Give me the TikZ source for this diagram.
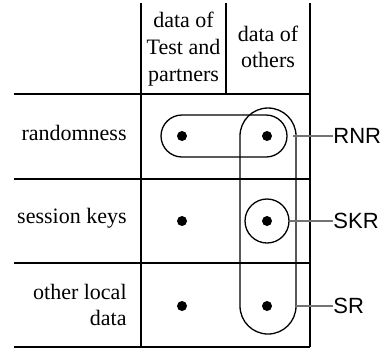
\documentclass[tikz,border=0pt]{standalone}
\usepackage{fontspec}
\setmainfont{Liberation Serif}
\newfontfamily\lblfont{Liberation Sans}
\usetikzlibrary{shapes.misc}
\begin{document}
\begin{tikzpicture}[x=0.5pt,y=-0.5pt,
  tbl/.style={line width=0.75pt},
  grp/.style={draw,line width=0.65pt,inner sep=0pt},
  dotnode/.style={circle,fill=black,inner sep=0pt,minimum size=5pt},
  rowlbl/.style={anchor=east,align=right,inner sep=0pt,font=\fontsize{11}{13.3}\selectfont},
  headlbl/.style={align=center,inner sep=0pt,font=\fontsize{11}{13.3}\selectfont},
  setlbl/.style={anchor=west,inner sep=0pt,font=\lblfont\fontsize{11}{13.3}\selectfont},
  conn/.style={draw=black!55,line width=0.6pt}]
\useasboundingbox (0,0) rectangle (383,350);
% table
\coordinate (tl) at (141,3);
\coordinate (tr) at (310,3);
\coordinate (tm) at (226,3);
\coordinate (bl) at (141,347);
\coordinate (br) at (310,347);
\coordinate (hm) at (226,94);
\coordinate (h1l) at (14,94);  \coordinate (h1r) at (310,94);
\coordinate (h2l) at (14,179); \coordinate (h2r) at (310,179);
\coordinate (h3l) at (14,263); \coordinate (h3r) at (310,263);
\coordinate (h4l) at (14,347); \coordinate (h4r) at (310,347);
\draw[tbl] (tl) -- (bl);
\draw[tbl] (tr) -- (br);
\draw[tbl] (tm) -- (hm);
\draw[tbl] (h1l) -- (h1r);
\draw[tbl] (h2l) -- (h2r);
\draw[tbl] (h3l) -- (h3r);
\draw[tbl] (h4l) -- (h4r);
% headers
\node[headlbl] (c1) at (183.5,49) {data of\\Test and\\partners};
\node[headlbl] (c2) at (268,47) {data of\\others};
% row labels
\node[rowlbl] (r1) at (127,133) {randomness};
\node[rowlbl] (r2) at (127,218) {session keys};
\node[rowlbl] (r3) at (127,305) {other local\\data};
% dots
\node[dotnode] (d11) at (182,136) {};
\node[dotnode] (d12) at (267,136) {};
\node[dotnode] (d21) at (182,221) {};
\node[dotnode] (d22) at (267,221) {};
\node[dotnode] (d31) at (182,306) {};
\node[dotnode] (d32) at (267,306) {};
% groups
\node[grp,rounded rectangle,minimum width=63pt,minimum height=21pt] (rnr) at (224,136) {};
\node[grp,rectangle,rounded corners=14pt,minimum width=28pt,minimum height=113pt] (sr) at (268,221) {};
\node[grp,circle,minimum size=22pt] (skr) at (267,221) {};
% labels
\node[setlbl] (lrnr) at (333,136) {RNR};
\node[setlbl] (lskr) at (333,221) {SKR};
\node[setlbl] (lsr) at (333,306) {SR};
\coordinate (srr) at (296,306);
\coordinate (rnrr) at (293,136);
\draw[conn] (rnrr) -- (lrnr.west);
\draw[conn] (skr.east) -- (lskr.west);
\draw[conn] (srr) -- (lsr.west);
\end{tikzpicture}
\end{document}
